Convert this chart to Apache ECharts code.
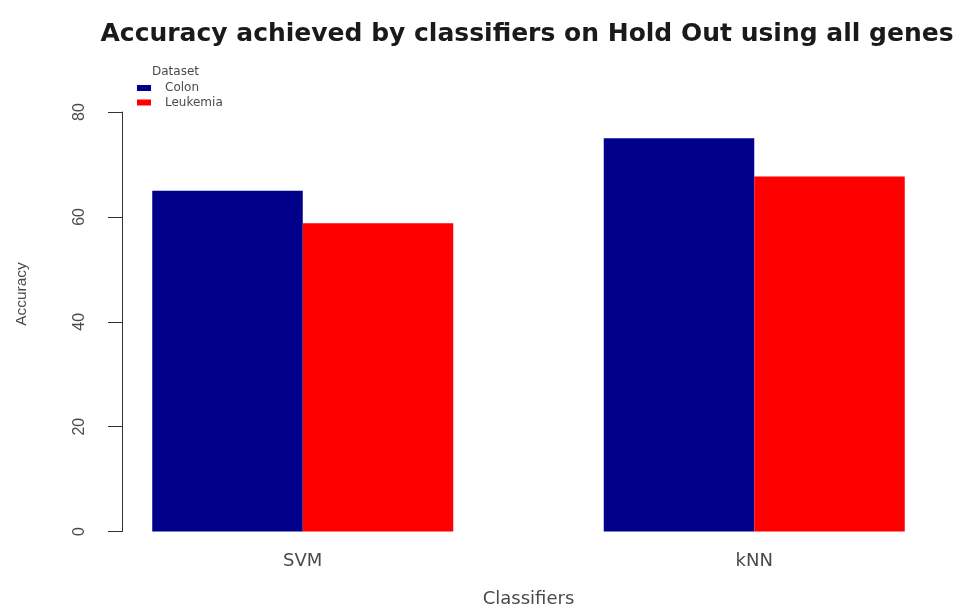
<!DOCTYPE html>
<html>
<head>
<meta charset="utf-8">
<title>Accuracy achieved by classifiers on Hold Out using all genes</title>
<script src="https://cdn.jsdelivr.net/npm/echarts@6/dist/echarts.min.js"></script>
<style>
  html, body { margin: 0; padding: 0; background: #ffffff; }
  #chart { width: 958px; height: 607px; }
</style>
</head>
<body>
<div id="chart"></div>
<script>
// Hold-out accuracy (%) per classifier for each dataset
const classifiers = ['SVM', 'kNN'];
const colonAccuracy = [65.0, 75.0];
const leukemiaAccuracy = [58.8, 67.7];
const yTicks = [0, 20, 40, 60, 80];

const FONT = '"Liberation Sans", Arial, Helvetica, sans-serif';
const WIDE_FONT = '"DejaVu Sans", "Liberation Sans", Arial, sans-serif';
const TEXT_GREY = '#4a4a4a';

const chart = echarts.init(document.getElementById('chart'), null, { renderer: 'canvas' });

chart.setOption({
  backgroundColor: '#ffffff',
  animation: false,
  textStyle: { fontFamily: WIDE_FONT },
  title: [
    {
      text: 'Accuracy achieved by classifiers on Hold Out using all genes',
      left: 527, top: 22, textAlign: 'center', padding: 0,
      textStyle: { fontFamily: WIDE_FONT, fontSize: 25, fontWeight: 'bold', color: '#1a1a1a' }
    },
    {
      text: 'Dataset',
      left: 152, top: 66, padding: 0,
      textStyle: { fontFamily: WIDE_FONT, fontSize: 12, fontWeight: 'normal', color: TEXT_GREY }
    }
  ],
  legend: {
    orient: 'vertical',
    left: 137, top: 82, padding: 0,
    itemWidth: 14, itemHeight: 6, itemGap: 2.5,
    icon: 'rect',
    textStyle: { fontFamily: WIDE_FONT, fontSize: 12, lineHeight: 12, color: TEXT_GREY, padding: [0, 0, 0, 9] },
    data: ['Colon', 'Leukemia']
  },
  grid: {
    left: 77, right: -22, top: 112, bottom: 75.5,
    outerBoundsMode: 'none',
    containLabel: false
  },
  xAxis: {
    type: 'category',
    data: classifiers,
    axisLine: { show: false },
    axisTick: { show: false },
    axisLabel: { fontFamily: WIDE_FONT, fontSize: 18, color: TEXT_GREY, margin: 21 },
    name: 'Classifiers',
    nameLocation: 'middle',
    nameGap: 59,
    nameTextStyle: { fontFamily: WIDE_FONT, fontSize: 18, color: TEXT_GREY }
  },
  yAxis: {
    type: 'value',
    min: yTicks[0],
    max: yTicks[yTicks.length - 1],
    interval: yTicks[1] - yTicks[0],
    offset: -45,
    splitLine: { show: false },
    axisLine: { show: true, lineStyle: { color: '#333333', width: 1 } },
    axisTick: { show: true, inside: false, length: 14, lineStyle: { color: '#333333', width: 1 } },
    axisLabel: { rotate: 90, margin: 34, fontFamily: FONT, fontSize: 16, color: TEXT_GREY }
  },
  graphic: [
    {
      type: 'text',
      x: 22, y: 294,
      rotation: Math.PI / 2,
      style: {
        text: 'Accuracy',
        fontFamily: FONT, fontSize: 15.5, fill: TEXT_GREY,
        textAlign: 'center', textVerticalAlign: 'middle'
      }
    }
  ],
  series: [
    {
      name: 'Colon',
      type: 'bar',
      data: colonAccuracy,
      itemStyle: { color: '#00008B' },
      barGap: '0%',
      barCategoryGap: '33.333%'
    },
    {
      name: 'Leukemia',
      type: 'bar',
      data: leukemiaAccuracy,
      itemStyle: { color: '#FF0000' },
      barGap: '0%',
      barCategoryGap: '33.333%'
    }
  ]
});
</script>
</body>
</html>
